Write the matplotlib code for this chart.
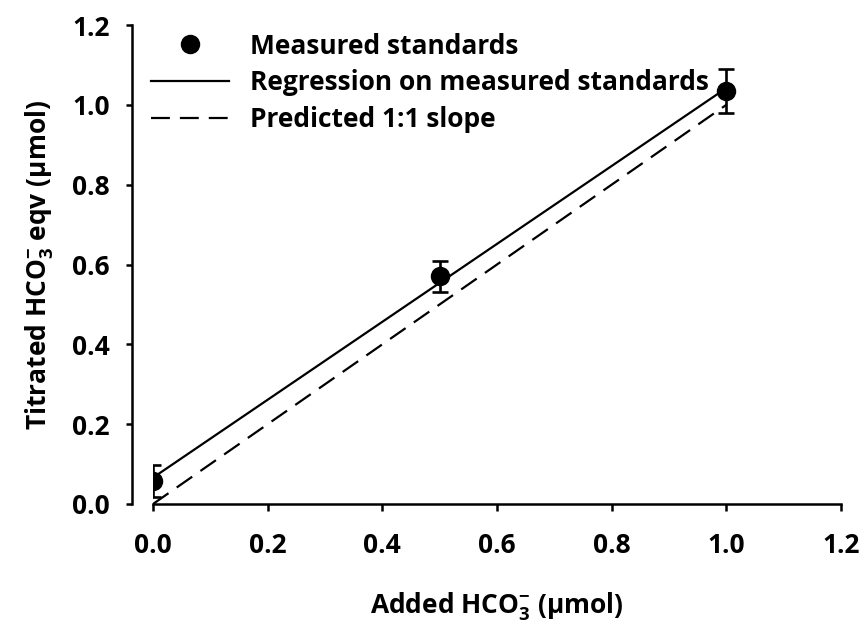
import numpy as np
import matplotlib
matplotlib.use('Agg')
from matplotlib import pyplot as plt
from matplotlib.lines import Line2D
from matplotlib.ticker import FormatStrFormatter

# data
added = [0.0, 0.5, 1.0]
titrated = [0.058, 0.570, 1.034]
titrated_err = [0.040, 0.040, 0.055]
predicted_x = [0.0, 1.0]
predicted_y = [0.0, 1.0]

font = 'Open Sans'
plt.rcParams['font.family'] = [font, 'DejaVu Sans']
plt.rcParams['font.weight'] = 'bold'
plt.rcParams['mathtext.fontset'] = 'custom'
plt.rcParams['mathtext.rm'] = font + ':bold'
plt.rcParams['mathtext.bf'] = font + ':bold'
plt.rcParams['mathtext.it'] = font + ':bold'
plt.rcParams['mathtext.default'] = 'rm'

fig = plt.figure(figsize=(8.63, 6.32), dpi=100)
ax = fig.add_axes([153 / 863, 1 - 504 / 632, (841 - 153) / 863, (504 - 25) / 632])

# regression through the measured standards
slope, intercept = np.polyfit(added, titrated, 1)
reg_x = np.array([min(added), max(added)])
reg_y = slope * reg_x + intercept

ax.errorbar(added, titrated, yerr=titrated_err, fmt='o', color='black', ms=13,
            elinewidth=1.9, capsize=6, capthick=1.9, zorder=3)
ax.plot(reg_x, reg_y, color='black', lw=1.6)
ax.plot(predicted_x, predicted_y, color='black', lw=1.6, linestyle=(0, (8.5, 4.5)))

ax.set_xlim(0, 1.2)
ax.set_ylim(0, 1.2)
ax.set_xticks(np.arange(0, 1.21, 0.2))
ax.set_yticks(np.arange(0, 1.21, 0.2))
ax.xaxis.set_major_formatter(FormatStrFormatter('%.1f'))
ax.yaxis.set_major_formatter(FormatStrFormatter('%.1f'))

ax.spines['top'].set_visible(False)
ax.spines['right'].set_visible(False)
ax.spines['left'].set_position(('outward', 15))
for s in ['left', 'bottom']:
    ax.spines[s].set_linewidth(1.8)
ax.tick_params(axis='x', direction='out', length=5, width=1.8, pad=15, labelsize=19)
ax.tick_params(axis='y', direction='out', length=4, width=1.8, pad=12, labelsize=19)

ax.set_xlabel('Added HCO$_3^{-}$ (\u03bcmol)', fontsize=19, fontweight='bold', labelpad=23)
ax.set_ylabel('Titrated HCO$_3^{-}$ eqv (\u03bcmol)', fontsize=19, fontweight='bold', labelpad=12)

handles = [
    Line2D([], [], marker='o', ls='none', color='black', ms=13),
    Line2D([], [], color='black', lw=1.6),
    Line2D([], [], color='black', lw=1.6, linestyle=(0, (8.5, 4.5))),
]
labels = ['Measured standards', 'Regression on measured standards', 'Predicted 1:1 slope']
ax.legend(handles, labels, loc='upper left', bbox_to_anchor=(-0.01, 0.995), frameon=False,
          handlelength=2.95, handletextpad=0.8, labelspacing=0.37,
          borderaxespad=0, borderpad=0.2, prop={'weight': 'bold', 'size': 19})

fig.savefig('out.png', dpi=100)
